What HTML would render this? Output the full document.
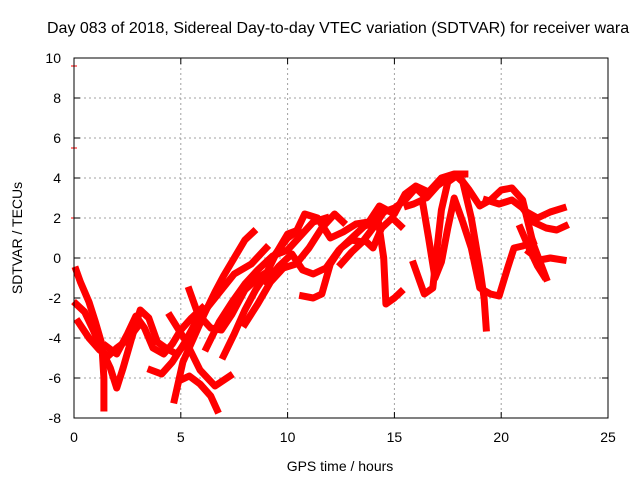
<!DOCTYPE html>
<html><head><meta charset="utf-8"><style>
body{margin:0;background:#fff;}
svg{display:block;font-family:"Liberation Sans",sans-serif;}
</style></head><body>
<svg id="chart" width="640" height="480">
<text x="47" y="33" font-size="16">Day 083 of 2018, Sidereal Day-to-day VTEC variation (SDTVAR) for receiver wara</text>
<text x="340" y="471" font-size="14" text-anchor="middle">GPS time / hours</text>
<text transform="translate(22,238) rotate(-90)" font-size="14" text-anchor="middle">SDTVAR / TECUs</text>
<g id="grid"></g><g id="series"></g>
<rect x="74" y="58" width="534" height="360" fill="none" stroke="#000" stroke-width="1"/>
<g id="ticks"></g>
</svg>
<script>
const xTicks=[0,5,10,15,20,25];
const yTicks=[-8,-6,-4,-2,0,2,4,6,8,10];
const track1=[[0.1,-0.6],[0.3,-1.2],[0.7,-2.2],[1.0,-3.2],[1.3,-4.3],[1.4,-6],[1.4,-7.5]];
const track2=[[0.1,-2.3],[0.5,-2.7],[0.9,-3.6],[1.3,-4.6],[1.7,-5.5],[2.0,-6.5],[2.3,-5.5],[2.7,-4],[3.1,-2.6],[3.5,-3],[3.9,-4.2],[4.3,-4.5],[4.8,-4.8],[5.2,-4.3]];
const track3=[[0.2,-3.2],[0.7,-4],[1.2,-4.6],[1.6,-4.9],[2.0,-4.5],[2.5,-4.1],[3.0,-3.4]];
const track4=[[1.5,-4.4],[2.0,-4.8],[2.5,-3.8],[2.9,-2.9],[3.3,-3.5],[3.7,-4.5],[4.2,-4.8],[4.6,-4.3],[5.0,-3.6],[5.5,-3],[6.0,-2.5]];
const track5=[[3.6,-5.6],[4.1,-5.8],[4.6,-5.2],[5.2,-4.2],[5.7,-3.2],[6.3,-2.4],[6.9,-1.6],[7.5,-0.8],[8.3,-0.3],[9,0.5]];
const track6=[[4.7,-7.1],[5.1,-5.2],[5.6,-4],[6.1,-2.8],[6.6,-1.7],[7.0,-0.9],[7.5,0],[8.0,0.9],[8.4,1.3]];
const track7=[[4.5,-2.9],[5.2,-4.1],[5.9,-5.6],[6.6,-6.4],[7.3,-5.9]];
const track8=[[5.0,-6.1],[5.4,-5.9],[5.9,-6.3],[6.4,-6.9],[6.7,-7.6]];
const track9=[[5.4,-1.6],[5.8,-2.8],[6.4,-3.5],[6.9,-3.6],[7.4,-2.8],[8.0,-1.6],[8.6,-1.0],[9.2,-0.6]];
const track10=[[6.2,-4.5],[6.8,-3.2],[7.4,-2.2],[8.0,-1.3],[8.6,-0.6],[9.3,0.1],[10.0,0.4],[10.6,1.1],[11.2,1.8],[11.8,2.0]];
const track11=[[7.0,-4.9],[7.5,-3.8],[8.0,-2.6],[8.5,-1.6],[9.0,-0.8],[9.5,0.3],[10.0,1.2],[10.5,1.4]];
const track12=[[8.0,-3.3],[8.6,-2.3],[9.2,-1.2],[9.8,-0.5],[10.4,-0.3],[11.0,0.5],[11.6,1.5],[12.2,2.2],[12.6,1.8]];
const track13=[[9.0,-1.2],[9.6,-0.4],[10.2,0.2],[10.7,-0.6],[11.2,-0.8],[11.8,-0.5],[12.4,0.4],[13,1.0],[13.6,1.6],[14.2,1.8]];
const track14=[[9.5,0.3],[10.0,1.0],[10.4,1.3],[10.8,2.2],[11.4,2.0],[12.0,1.0],[12.6,1.3],[13.2,1.7],[13.8,1.8],[14.3,2.6],[15,2.2],[15.5,3.2],[16,3.6],[16.6,3.3],[17.2,4.0],[17.8,4.2],[18.3,4.2]];
const track15=[[10.7,-1.9],[11.2,-2.0],[11.6,-1.8],[12.0,-0.3],[12.5,0.5],[13.0,0.9],[13.5,0.8],[14.0,1.5],[14.5,2.3],[15.0,2.5],[15.5,2.9],[16.0,3.5],[16.5,3.0],[17.0,3.6],[17.5,4.0],[18.0,4.1],[18.5,3.4],[19.0,2.6],[19.5,2.9],[20.0,3.4],[20.5,3.5],[21.0,2.9],[21.5,0.7],[22.1,-1.0]];
const track16=[[14.2,2.2],[14.5,0],[14.6,-2.3],[15.0,-2.0],[15.3,-1.7]];
const track17=[[15.9,-0.3],[16.2,-1.2],[16.4,-1.8],[16.8,-1.5],[17.0,0.5],[17.2,2.4],[17.5,3.8],[17.9,4.1],[18.2,3.8],[18.6,2.0],[19.0,-0.5],[19.2,-2.0],[19.3,-3.5]];
const track18=[[15.6,2.6],[15.9,2.7],[16.3,2.9],[16.6,1.0],[16.9,-1.0],[17.2,-0.2],[17.5,1.5],[17.8,3.0],[18.2,1.8],[18.6,0.5],[19.0,-1.5],[19.5,-1.8],[19.9,-1.9],[20.3,-0.5],[20.6,0.5],[21.0,0.6],[21.5,0.8]];
const track19=[[19.3,2.9],[19.9,2.7],[20.5,2.9],[21.0,2.5],[21.5,1.8],[22.1,1.5],[22.6,1.4],[23,1.6]];
const track20=[[21.2,2.3],[21.7,2.0],[22.3,2.3],[22.9,2.5]];
const track21=[[21.3,0.3],[21.8,-0.1],[22.3,0],[22.9,-0.1]];
const track22=[[20.9,1.5],[21.3,0.5],[21.7,-0.4],[22.0,-0.9]];
const track23=[[12.5,-0.3],[13.0,0.3],[13.6,0.9],[14.0,0.5],[14.4,1.5],[14.9,2.0],[15.3,1.6]];
const outliers=[[0,9.6],[0,5.5],[0,2]];
const tracks=[track1,track2,track3,track4,track5,track6,track7,track8,track9,track10,track11,track12,track13,track14,track15,track16,track17,track18,track19,track20,track21,track22,track23];

const NS="http://www.w3.org/2000/svg";
const X0=74,X1=608,Y0=418,Y1=58;
function sx(h){return X0+(h-0)/(25-0)*(X1-X0);}
function sy(v){return Y0-(v-(-8))/(10-(-8))*(Y0-Y1);}
const grid=document.getElementById('grid'),ticks=document.getElementById('ticks'),ser=document.getElementById('series');
function mk(tag,attrs,parent){const e=document.createElementNS(NS,tag);for(const k in attrs)e.setAttribute(k,attrs[k]);parent.appendChild(e);return e;}
xTicks.forEach(t=>{
  const x=sx(t);
  if(t>0&&t<25){const g=mk('line',{x1:x,x2:x,y1:Y1,y2:Y0,stroke:'#a0a0a0','stroke-dasharray':'2,3'},grid);
  
  }
  mk('line',{x1:x,x2:x,y1:Y0,y2:Y0-6,stroke:'#000'},ticks);
  mk('line',{x1:x,x2:x,y1:Y1,y2:Y1+6,stroke:'#000'},ticks);
  const l=mk('text',{x:x,y:Y0+24,'font-size':14,'text-anchor':'middle'},ticks);
  l.textContent=t;
  
  
});
yTicks.forEach(t=>{
  const y=sy(t);
  if(t>-8&&t<10){const g=mk('line',{x1:X0,x2:X1,y1:y,y2:y,stroke:'#a0a0a0','stroke-dasharray':'2,3'},grid);
  
  }
  mk('line',{x1:X0,x2:X0+6,y1:y,y2:y,stroke:'#000'},ticks);
  mk('line',{x1:X1,x2:X1-6,y1:y,y2:y,stroke:'#000'},ticks);
  const l=mk('text',{x:X0-13,y:y+5,'font-size':14,'text-anchor':'end'},ticks);
  l.textContent=t;
  
  
});
tracks.forEach((tr,i)=>{
  const d=tr.map((p,j)=>(j?'L':'M')+sx(p[0]).toFixed(1)+','+sy(p[1]).toFixed(1)).join(' ');
  const p=mk('path',{d:d,fill:'none',stroke:'#ff0000','stroke-width':7,'stroke-linejoin':'round','stroke-linecap':'square'},ser);
  
  
});
outliers.forEach(pt=>{
  const p=mk('path',{d:'M'+(sx(pt[0])-3)+','+sy(pt[1])+' h6 M'+sx(pt[0])+','+(sy(pt[1])-3)+' v6',stroke:'#ff0000','stroke-width':1},ser);
  
  
});
</script>
</body></html>
